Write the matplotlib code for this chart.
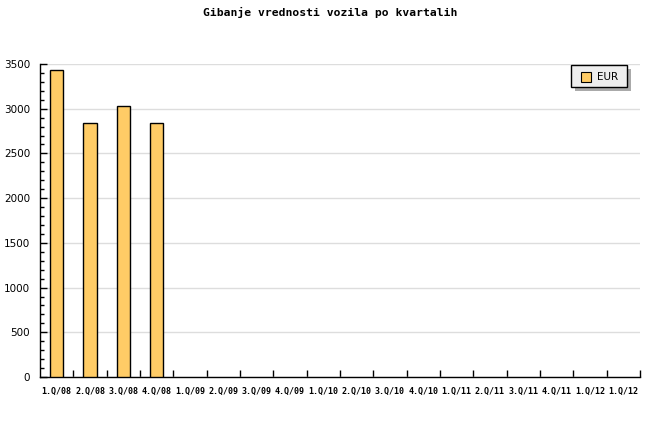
import matplotlib.pyplot as plt
import numpy as np
from matplotlib.ticker import MultipleLocator
import matplotlib.patches as mpatches

quarters = ['1.Q/08', '2.Q/08', '3.Q/08', '4.Q/08', '1.Q/09', '2.Q/09', '3.Q/09', '4.Q/09',
            '1.Q/10', '2.Q/10', '3.Q/10', '4.Q/10', '1.Q/11', '2.Q/11', '3.Q/11', '4.Q/11',
            '1.Q/12', '1.Q/12']
eur = [3435, 2845, 3035, 2845, 0, 0, 0, 0, 0, 0, 0, 0, 0, 0, 0, 0, 0, 0]

fig = plt.figure(figsize=(6.6, 4.4), dpi=100)
ax = fig.add_axes([40/660, 1-377/440, 600/660, 313/440])

x = np.arange(len(quarters))
vals = np.array(eur, dtype=float)
mask = vals > 0
ax.bar(x[mask], vals[mask], width=0.4, color='#ffcc66', edgecolor='black', linewidth=1, zorder=3)

ax.set_xlim(-0.5, len(quarters) - 0.5)
ax.set_ylim(0, 3500)
ax.yaxis.set_major_locator(MultipleLocator(500))
ax.yaxis.set_minor_locator(MultipleLocator(100))
ax.grid(axis='y', color='#dddddd', linewidth=1, zorder=0)

ax.set_xticks(x)
ax.set_xticklabels(quarters, fontfamily='DejaVu Sans Mono', fontsize=6, fontweight='bold')
ax.tick_params(axis='x', length=0, pad=7)
ax.set_xticks(np.arange(len(quarters)) + 0.5, minor=True)
ax.tick_params(axis='x', which='minor', direction='in', length=5, width=1)
ax.tick_params(axis='y', which='major', direction='in', length=5, width=1, labelsize=7.5, pad=7)
ax.tick_params(axis='y', which='minor', direction='in', length=3, width=1)

for s in ['top', 'right']:
    ax.spines[s].set_visible(False)
ax.spines['left'].set_linewidth(1)
ax.spines['bottom'].set_linewidth(1)

fig.text(0.5, 1-12/440, 'Gibanje vrednosti vozila po kvartalih', ha='center', va='center',
         fontfamily='DejaVu Sans Mono', fontweight='bold', fontsize=8.2)

# legend box with shadow
shadow = mpatches.Rectangle((575/660, 1-91/440), 56/660, 22/440, transform=fig.transFigure,
                            facecolor='#aaaaaa', edgecolor='none')
box = mpatches.Rectangle((571/660, 1-87/440), 56/660, 22/440, transform=fig.transFigure,
                         facecolor='#eeeeee', edgecolor='black', linewidth=1)
swatch = mpatches.Rectangle((581/660, 1-82/440), 10/660, 10/440, transform=fig.transFigure,
                            facecolor='#ffcc66', edgecolor='black', linewidth=0.8)
fig.patches.extend([shadow, box, swatch])
fig.text(597/660, 1-77/440, 'EUR', va='center', fontsize=7.5)

fig.savefig('out.png', dpi=100)
